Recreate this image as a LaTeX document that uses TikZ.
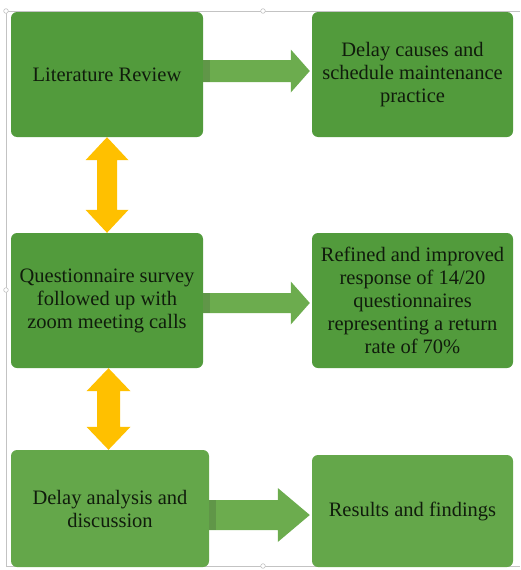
\documentclass[tikz,border=0pt]{standalone}
\usepackage{fontspec}
\setmainfont{Liberation Serif}
\usetikzlibrary{calc}
\definecolor{boxgreen}{RGB}{82,155,60}
\definecolor{boxgreenlt}{RGB}{100,167,74}
\definecolor{arrowgreen}{RGB}{108,172,78}
\definecolor{stripgreen}{RGB}{96,150,72}
\definecolor{arrowyellow}{RGB}{255,192,0}
\definecolor{textdark}{RGB}{16,28,12}
\definecolor{framegrey}{RGB}{195,195,195}
% block arrow: from, to, dy, shaft half, head half, head length
\newcommand{\greenarrow}[6]{\coordinate (gtip) at (#2.west |- #1.east);
  \fill[arrowgreen] ($(#1.east)+(0,#3-#4)$) -- ($(gtip)+(-#6,#3-#4)$) -- ($(gtip)+(-#6,#3-#5)$) -- ($(gtip)+(-2,#3)$) -- ($(gtip)+(-#6,#3+#5)$) -- ($(gtip)+(-#6,#3+#4)$) -- ($(#1.east)+(0,#3+#4)$) -- cycle;
  \fill[stripgreen] ($(#1.east)+(0,#3-#4)$) rectangle ($(#1.east)+(7,#3+#4)$);}
% double arrow: from, to, shaft half, head half, head length
\newcommand{\yellowarrow}[5]{\coordinate (ytop) at ($(#1.south)!0.5!(#1.south -| #2.north)$);
  \coordinate (ybot) at (ytop |- #2.north);
  \fill[arrowyellow] (ytop) -- ($(ytop)+(#4,#5)$) -- ($(ytop)+(#3,#5)$) -- ($(ybot)+(#3,-#5)$) -- ($(ybot)+(#4,-#5)$) -- (ybot) -- ($(ybot)+(-#4,-#5)$) -- ($(ybot)+(-#3,-#5)$) -- ($(ytop)+(-#3,#5)$) -- ($(ytop)+(-#4,#5)$) -- cycle;}

\begin{document}
\begin{tikzpicture}[x=1pt,y=-1pt,
  stepbox/.style={rounded corners=6pt,fill=boxgreen,text=textdark,align=center,inner sep=0pt,font=\fontsize{20.5}{23}\selectfont}]
  \useasboundingbox (0,0) rectangle (520,570);
  \draw[framegrey,line width=0.9pt] (520,11) -- (6,11) -- (6,566) -- (520,566);

  \node[stepbox,minimum width=192,minimum height=125] (lit) at (107,74.5) {Literature Review};
  \node[stepbox,minimum width=201,minimum height=125] (causes) at (412.5,74.5) {Delay causes and\\schedule maintenance\\practice};
  \node[stepbox,minimum width=192,minimum height=135] (survey) at (107,300.5) {Questionnaire survey\\followed up with\\zoom meeting calls};
  \node[stepbox,minimum width=201,minimum height=135] (response) at (412.5,300.5) {Refined and improved\\response of 14/20\\questionnaires\\representing a return\\rate of 70\%};
  \node[stepbox,fill=boxgreenlt,minimum width=198,minimum height=117] (analysis) at (110,508.5) {Delay analysis and\\discussion};
  \node[stepbox,fill=boxgreenlt,minimum width=201,minimum height=112] (results) at (412.5,511) {Results and findings};

  \greenarrow{lit}{causes}{-3.5}{11}{21.5}{21}
  \greenarrow{survey}{response}{2.5}{10}{21.5}{21}
  \greenarrow{analysis}{results}{6.5}{15}{27}{34}

  \yellowarrow{lit}{survey}{10}{21.5}{23}
  \yellowarrow{survey}{analysis}{11.5}{22}{23}

  \foreach \p in {(6,11),(263,11),(6,290),(263,566)}
    \draw[framegrey,fill=white,line width=0.6pt] \p circle (2.3);
\end{tikzpicture}
\end{document}
